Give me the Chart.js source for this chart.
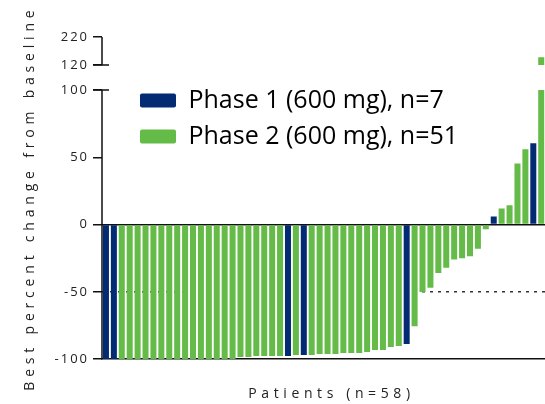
<!DOCTYPE html>
<html>
<head>
<meta charset="utf-8">
<script src="https://cdn.jsdelivr.net/npm/chart.js@4/dist/chart.umd.min.js"></script>
<style>
  html, body { margin: 0; padding: 0; background: #fff; overflow: hidden; }
  #wrap { width: 545px; height: 404px; overflow: hidden; }
</style>
</head>
<body>
<div id="wrap"><canvas id="chart" width="561" height="404"></canvas></div>
<script>
// 58 patients; the picture is cropped on the right, so only the first 56 bars are readable
const patients = Array.from({ length: 58 }, (_, i) => String(i + 1));

const change = [
  -100, -100, -100, -100, -100, -100, -100, -100, -100, -100,
  -100, -100, -100, -100, -100, -100, -100, -98.3, -98.3, -97.6,
  -97.6, -97.6, -97.6, -97.6, -96.8, -96.8, -96.8, -96.1, -96.1, -96.1,
  -95.4, -95.4, -95.4, -94.6, -93.1, -93.1, -90.9, -90.2, -88.7, -75.5,
  -50, -47, -36, -32, -26, -25, -23.5, -18, -3.5, 6,
  12, 14.3, 45.5, 56, 60.5, 148
];

const phase = [
  1, 1, 2, 2, 2, 2, 2, 2, 2, 2,
  2, 2, 2, 2, 2, 2, 2, 2, 2, 2,
  2, 2, 2, 1, 2, 1, 2, 2, 2, 2,
  2, 2, 2, 2, 2, 2, 2, 2, 1, 2,
  2, 2, 2, 2, 2, 2, 2, 2, 2, 1,
  2, 2, 2, 2, 1, 2
];

const seriesNames = ['Phase 1 (600 mg), n=7', 'Phase 2 (600 mg), n=51'];
const seriesColors = ['#022b74', '#64bb47'];
const yTicks = [-100, -50, 0, 50, 100, 120, 220];

// axis break between 100 and 120
const BREAK_LOW = 100;
const BREAK_HIGH = 120;
const GAP_SHARE = 25 / 322;
const TOP_SHARE = 28 / 322;

const LEGEND_DX = 27;
const LEGEND_DY = 77;

class BrokenScale extends Chart.LinearScale {
  static id = 'broken';
  static defaults = Chart.LinearScale.defaults;

  parts() {
    const h = this.bottom - this.top;
    const top = h * TOP_SHARE;
    const gap = h * GAP_SHARE;
    return { low: h - top - gap, gap, top };
  }

  getPixelForValue(v) {
    const p = this.parts();
    if (v <= BREAK_LOW) return this.bottom - (v - this.min) / (BREAK_LOW - this.min) * p.low;
    if (v >= BREAK_HIGH) return this.top + (this.max - v) / (this.max - BREAK_HIGH) * p.top;
    return this.bottom - p.low - (v - BREAK_LOW) / (BREAK_HIGH - BREAK_LOW) * p.gap;
  }

  getValueForPixel(px) {
    const p = this.parts();
    const yLow = this.bottom - p.low;
    const yHigh = this.top + p.top;
    if (px >= yLow) return this.min + (this.bottom - px) / p.low * (BREAK_LOW - this.min);
    if (px <= yHigh) return this.max - (px - this.top) / p.top * (this.max - BREAK_HIGH);
    return BREAK_LOW + (yLow - px) / p.gap * (BREAK_HIGH - BREAK_LOW);
  }

  drawLabels(area) {
    const c = this.ctx;
    c.save();
    c.letterSpacing = '2px';
    super.drawLabels(area);
    c.restore();
  }

  drawTitle() {
    const c = this.ctx;
    c.save();
    c.letterSpacing = '4.8px';
    super.drawTitle();
    c.restore();
  }
}

class SpacedCategory extends Chart.CategoryScale {
  static id = 'spacedCategory';
  static defaults = Chart.CategoryScale.defaults;

  drawTitle() {
    const c = this.ctx;
    c.save();
    c.letterSpacing = '4.6px';
    super.drawTitle();
    c.restore();
  }
}

Chart.register(BrokenScale, SpacedCategory);

const brokenAxis = {
  id: 'brokenAxis',
  afterUpdate(chart) {
    const lg = chart.legend;
    lg.left += LEGEND_DX;
    lg.right += LEGEND_DX;
    lg.top += LEGEND_DY;
    lg.bottom += LEGEND_DY;
  },
  afterDatasetsDraw(chart) {
    const { ctx, chartArea } = chart;
    const y = chart.scales.y;
    const yLow = y.getPixelForValue(BREAK_LOW);
    const yHigh = y.getPixelForValue(BREAK_HIGH);

    // cut bars that run through the break
    ctx.save();
    ctx.fillStyle = '#fff';
    chart.data.datasets.forEach((ds, i) => {
      chart.getDatasetMeta(i).data.forEach((bar, j) => {
        if (ds.data[j] > BREAK_LOW) {
          ctx.fillRect(bar.x - bar.width / 2 - 1, yHigh, bar.width + 2, yLow - yHigh);
        }
      });
    });

    const x = chartArea.left;
    ctx.strokeStyle = '#111';
    ctx.lineWidth = 1.5;
    ctx.beginPath();
    ctx.moveTo(x, y.bottom);
    ctx.lineTo(x, yLow);
    ctx.moveTo(x, yHigh);
    ctx.lineTo(x, y.top);
    ctx.moveTo(x - 9, yLow);
    ctx.lineTo(x + 7, yLow);
    ctx.moveTo(x - 9, yHigh);
    ctx.lineTo(x + 7, yHigh);
    ctx.stroke();
    ctx.restore();
  }
};

const tickIs = (c, v) => c.tick && c.tick.value === v;

new Chart(document.getElementById('chart'), {
  type: 'bar',
  data: {
    labels: patients,
    datasets: seriesNames.map((label, k) => ({
      label,
      data: change.map((v, i) => (phase[i] === k + 1 ? v : null)),
      backgroundColor: seriesColors[k],
      borderWidth: 0,
      grouped: false,
      categoryPercentage: 1,
      barPercentage: 0.76,
    }))
  },
  options: {
    responsive: false,
    animation: false,
    events: [],
    layout: { padding: { top: 37, left: 0, right: 0, bottom: 0 } },
    scales: {
      x: {
        type: 'spacedCategory',
        offset: true,
        ticks: { display: false },
        grid: { display: false, drawTicks: false },
        border: { color: '#111', width: 1.5 },
        title: {
          display: true,
          text: 'Patients (n=58)',
          color: '#222',
          font: { family: 'Open Sans', size: 14 },
          padding: { top: 26, bottom: 2 }
        }
      },
      y: {
        type: 'broken',
        min: -100,
        max: 220,
        afterBuildTicks: (s) => { s.ticks = yTicks.map(value => ({ value })); },
        afterFit: (s) => { s.width = 102; },
        ticks: {
          autoSkip: false,
          padding: 4,
          color: '#222',
          font: { family: 'Open Sans', size: 13 }
        },
        grid: {
          color: (c) => (tickIs(c, 0) ? '#111' : tickIs(c, -50) ? '#333' : 'rgba(0,0,0,0)'),
          lineWidth: 1.5,
          tickColor: '#111',
          tickWidth: 1.5,
          tickLength: 9
        },
        border: {
          display: false,
          dash: (c) => (tickIs(c, -50) ? [3, 5] : [])
        },
        title: {
          display: true,
          text: 'Best percent change from baseline',
          color: '#222',
          font: { family: 'Open Sans', size: 14 },
          padding: { top: 22, bottom: 0 }
        }
      }
    },
    plugins: {
      legend: {
        position: 'chartArea',
        align: 'start',
        labels: {
          boxWidth: 36,
          boxHeight: 14,
          padding: 11,
          color: '#000',
          useBorderRadius: true,
          borderRadius: 2,
          font: { family: 'Open Sans', size: 25 }
        }
      },
      tooltip: { enabled: false }
    }
  },
  plugins: [brokenAxis]
});
</script>
</body>
</html>
